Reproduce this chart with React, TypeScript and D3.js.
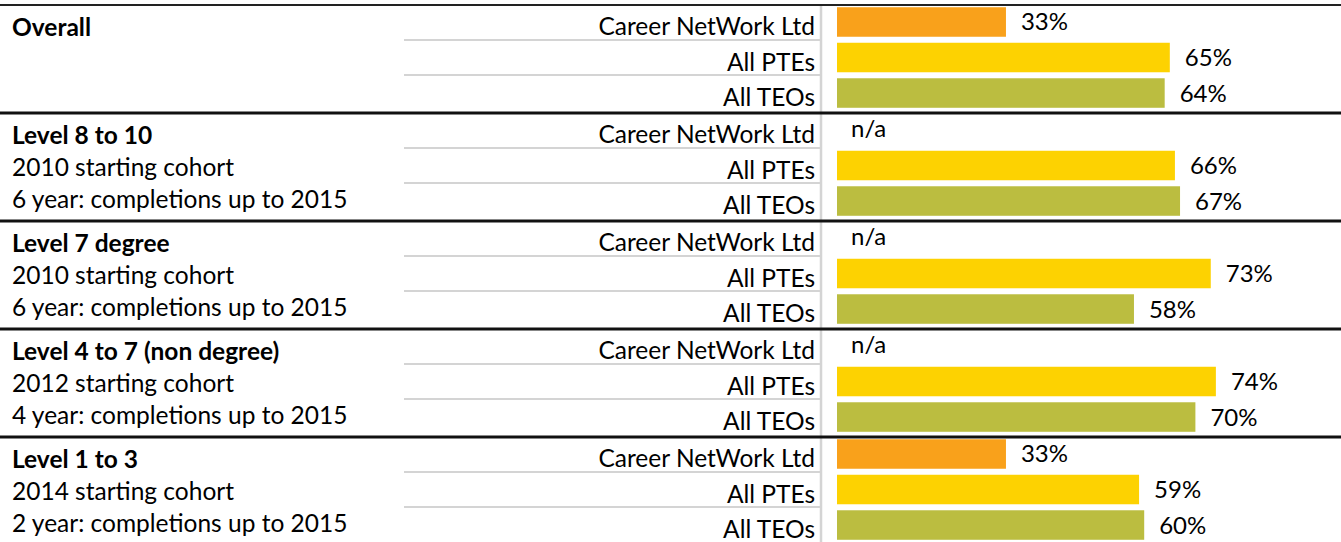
import React from "react";
import * as d3 from "d3";

const groupTitles = ["Overall", "Level 8 to 10", "Level 7 degree", "Level 4 to 7 (non degree)", "Level 1 to 3"];
const cohortLines = ["", "2010 starting cohort", "2010 starting cohort", "2012 starting cohort", "2014 starting cohort"];
const periodLines = ["", "6 year: completions up to 2015", "6 year: completions up to 2015", "4 year: completions up to 2015", "2 year: completions up to 2015"];
const seriesNames = ["Career NetWork Ltd", "All PTEs", "All TEOs"];
const careerNetwork: (number | null)[] = [33, null, null, null, 33];
const allPTEs: (number | null)[] = [65, 66, 73, 74, 59];
const allTEOs: (number | null)[] = [64, 67, 58, 70, 60];
const seriesColors = ["#F9A11B", "#FDD201", "#BBBD40"];

const W = 1341;
const H = 542;
const FONT = "Lato, 'Open Sans', sans-serif";

export default function App() {
  const seriesValues = [careerNetwork, allPTEs, allTEOs];
  const top = 5;
  const groupH = 108;
  const yGroup = d3.scaleBand<number>().domain(d3.range(groupTitles.length)).range([top, top + groupH * groupTitles.length]);
  const yRow = d3.scaleBand<number>().domain([0, 1, 2]).range([0, groupH]).paddingInner(0.169).paddingOuter(0.105).align(0.3);
  const x = d3.scaleLinear().domain([0, 100]).range([837, 837 + 512]);
  const labelRight = 815;
  const vx = 821;
  const fs = 24.5;

  return (
    <svg width={W} height={H} style={{ position: "absolute", left: 0, top: 0, background: "#fff" }} fontFamily={FONT}>
      <rect x={0} y={0} width={W} height={H} fill="#fff" />
      {/* vertical divider */}
      <line x1={vx} x2={vx} y1={top} y2={H} stroke="#d4d4d4" strokeWidth={2.5} />
      {groupTitles.map((g, gi) => {
        const gy = yGroup(gi)!;
        return (
          <g key={gi} transform={`translate(0,${gy})`}>
            {/* row separators */}
            {[35, 70].map((ry) => (
              <line key={ry} x1={404} x2={vx - 1} y1={ry} y2={ry} stroke="#d4d4d4" strokeWidth={2} />
            ))}
            <text x={12} y={31} fontSize={fs} fontWeight="bold" fill="#000">{g}</text>
            {cohortLines[gi] && <text x={12} y={63} fontSize={fs} fill="#000">{cohortLines[gi]}</text>}
            {periodLines[gi] && <text x={12} y={95} fontSize={fs} fill="#000">{periodLines[gi]}</text>}
            {seriesNames.map((s, si) => {
              const ry = yRow(si)!;
              const bh = yRow.bandwidth();
              const v = seriesValues[si][gi];
              const cy = ry + bh / 2;
              return (
                <g key={si}>
                  <text x={labelRight} y={cy + 13} fontSize={fs} textAnchor="end" fill="#000">{s}</text>
                  {v != null ? (
                    <>
                      <rect x={x(0)} y={ry} width={x(v) - x(0)} height={bh} fill={seriesColors[si]} />
                      <text x={x(v) + 15} y={cy + 8.5} fontSize={24} fill="#000">{`${v}%`}</text>
                    </>
                  ) : (
                    <text x={x(0) + 14} y={cy + 7} fontSize={24} fill="#000">n/a</text>
                  )}
                </g>
              );
            })}
          </g>
        );
      })}
      {/* top rule */}
      <line x1={0} x2={W} y1={top} y2={top} stroke="#222" strokeWidth={2} />
      {/* group separators */}
      {d3.range(1, groupTitles.length).map((i) => (
        <line key={i} x1={0} x2={W} y1={yGroup(i)!} y2={yGroup(i)!} stroke="#111" strokeWidth={3} />
      ))}
    </svg>
  );
}
